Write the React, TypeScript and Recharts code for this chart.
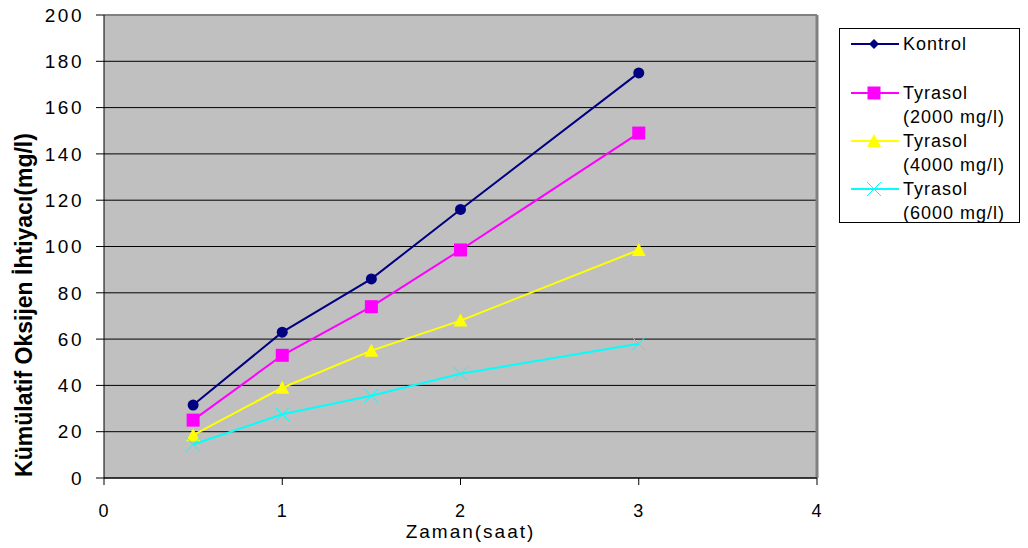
import { CartesianGrid, Label, Line, LineChart, ReferenceLine, XAxis, YAxis } from "recharts";

const hours = [0.5, 1, 1.5, 2, 3];
const kontrol = [31.5, 63, 86, 116, 175];
const tyrasol2000 = [25, 53, 74, 98.5, 149];
const tyrasol4000 = [18.5, 39, 55, 68, 98.5];
const tyrasol6000 = [14.5, 27.5, 35.5, 45, 58];
const xTicks = [0, 1, 2, 3, 4];
const yTicks = [0, 20, 40, 60, 80, 100, 120, 140, 160, 180, 200];

const data = hours.map((t, i) => ({
  t,
  kontrol: kontrol[i],
  t2000: tyrasol2000[i],
  t4000: tyrasol4000[i],
  t6000: tyrasol6000[i],
}));

const FONT = "'Liberation Sans', Arial, sans-serif";

type Mark = "circle" | "square" | "triangle" | "cross";

function marker(kind: Mark, color: string, cx: number, cy: number, key?: string) {
  if (kind === "circle") return <circle key={key} cx={cx} cy={cy} r={5.5} fill={color} />;
  if (kind === "square") return <rect key={key} x={cx - 6.5} y={cy - 6.5} width={13} height={13} fill={color} />;
  if (kind === "triangle")
    return <polygon key={key} points={`${cx - 7},${cy + 6} ${cx + 7},${cy + 6} ${cx},${cy - 7}`} fill={color} />;
  return (
    <g key={key} stroke={color} strokeWidth={1}>
      <line x1={cx - 7} y1={cy - 7} x2={cx + 7} y2={cy + 7} />
      <line x1={cx - 7} y1={cy + 7} x2={cx + 7} y2={cy - 7} />
    </g>
  );
}

const series: { key: string; color: string; mark: Mark; lines: string[] }[] = [
  { key: "kontrol", color: "#000080", mark: "circle", lines: ["Kontrol"] },
  { key: "t2000", color: "#FF00FF", mark: "square", lines: ["Tyrasol", "(2000 mg/l)"] },
  { key: "t4000", color: "#FFFF00", mark: "triangle", lines: ["Tyrasol", "(4000 mg/l)"] },
  { key: "t6000", color: "#00FFFF", mark: "cross", lines: ["Tyrasol", "(6000 mg/l)"] },
];

const legendRows = [43, 92, 140, 188];

function LegendBox() {
  return (
    <div
      style={{
        position: "absolute",
        left: 839,
        top: 28,
        width: 181,
        height: 195,
        border: "1px solid #000",
        boxSizing: "border-box",
        background: "#fff",
      }}
    >
      <svg width={181} height={195} style={{ position: "absolute", left: 0, top: 0 }}>
        {series.map((s, i) => {
          const y = legendRows[i] - 28;
          return (
            <g key={s.key}>
              <line x1={11} x2={59} y1={y} y2={y} stroke={s.color} strokeWidth={2} />
              {s.mark === "circle" ? (
                <polygon points={`34,${y - 5} 39,${y} 34,${y + 5} 29,${y}`} fill={s.color} />
              ) : (
                marker(s.mark, s.color, 34, y)
              )}
              {s.lines.map((txt, j) => (
                <text
                  key={j}
                  x={63}
                  y={y + 6 + j * 24}
                  fontFamily={FONT}
                  fontSize={18}
                  letterSpacing={1}
                  fill="#000"
                >
                  {txt}
                </text>
              ))}
            </g>
          );
        })}
      </svg>
    </div>
  );
}

export default function App() {
  return (
    <div style={{ position: "absolute", left: 0, top: 0, width: 1028, height: 548, background: "#fff" }}>
      <LineChart width={1028} height={548} data={data} margin={{ top: 15, right: 211, bottom: 0, left: 0 }}>
        <CartesianGrid vertical={false} stroke="#000" strokeWidth={1} fill="#C0C0C0" fillOpacity={1} />
        <XAxis
          dataKey="t"
          type="number"
          domain={[0, 4]}
          ticks={xTicks}
          height={70}
          stroke="#000"
          tickSize={7}
          tickMargin={19}
          tick={{ fill: "#000", fontSize: 18, fontFamily: FONT, letterSpacing: 1 }}
        >
          <Label
            content={({ viewBox }: any) => (
              <text
                x={viewBox.x + viewBox.width / 2 + 10}
                y={538}
                textAnchor="middle"
                fontFamily={FONT}
                fontSize={19}
                letterSpacing={2}
                fill="#000"
              >
                Zaman(saat)
              </text>
            )}
          />
        </XAxis>
        <YAxis
          type="number"
          domain={[0, 200]}
          ticks={yTicks}
          width={104}
          stroke="#000"
          tickSize={8}
          tickMargin={12}
          tick={{ fill: "#000", fontSize: 19, fontFamily: FONT, letterSpacing: 2.5 }}
        >
          <Label
            content={() => (
              <text
                x={32}
                y={305}
                transform="rotate(-90, 32, 305)"
                textAnchor="middle"
                fontFamily={FONT}
                fontSize={23}
                fontWeight="bold"
                fill="#000"
              >
                Kümülatif Oksijen İhtiyacı(mg/l)
              </text>
            )}
          />
        </YAxis>
        <ReferenceLine y={200} stroke="#808080" strokeWidth={2} />
        <ReferenceLine x={4} stroke="#808080" strokeWidth={3} />
        {series.map((s) => (
          <Line
            key={s.key}
            dataKey={s.key}
            stroke={s.color}
            strokeWidth={2}
            isAnimationActive={false}
            dot={(p: any) => marker(s.mark, s.color, p.cx, p.cy, `${s.key}-${p.index}`)}
            activeDot={false}
          />
        ))}
      </LineChart>
      <LegendBox />
    </div>
  );
}
